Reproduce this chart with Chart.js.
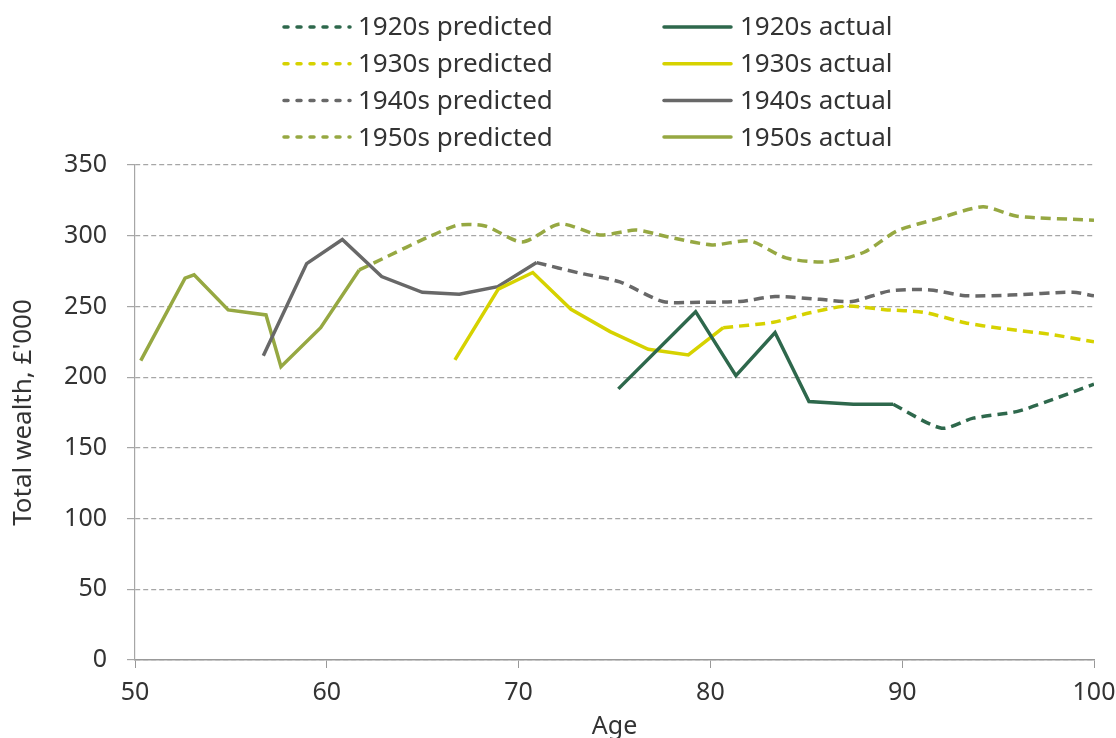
<!DOCTYPE html>
<html>
<head>
<meta charset="utf-8">
<script src="https://cdn.jsdelivr.net/npm/chart.js@4.4.0/dist/chart.umd.min.js"></script>
<style>
  body { margin: 0; background: #fff; }
  #wrap { width: 1116px; height: 738px; }
</style>
</head>
<body>
<div id="wrap"><canvas id="grafico" width="1116" height="738"></canvas></div>
<script>
// datos (edad, riqueza total en miles de libras)
const edades1920Real = [75.2, 79.23, 81.33, 83.37, 85.14, 87.45, 89.53];
const riqueza1920Real = [191.7, 246.3, 201.1, 231.5, 182.8, 180.8, 180.8];
const edades1920Pred = [89.53, 92.06, 93.7, 95.96, 97.53, 100];
const riqueza1920Pred = [180.8, 163.9, 171.0, 175.6, 182.7, 195.0];

const edades1930Real = [66.68, 68.94, 70.74, 72.73, 74.77, 76.76, 78.85, 80.67];
const riqueza1930Real = [212.2, 262.2, 274.0, 248.0, 232.2, 219.7, 215.7, 235.0];
const edades1930Pred = [80.67, 83.28, 85.19, 87.1, 89.1, 91.1, 93.27, 95.1, 97.7, 100];
const riqueza1930Pred = [235.0, 238.8, 245.5, 250.2, 247.7, 245.9, 238.5, 234.6, 230.3, 225.0];

const edades1940Real = [56.69, 58.95, 60.81, 62.86, 64.98, 66.91, 68.91, 70.94];
const riqueza1940Real = [215.2, 280.3, 297.3, 271.1, 260.0, 258.6, 264.0, 281.0];
const edades1940Pred = [70.94, 73.2, 75.28, 77.52, 79.45, 81.54, 83.37, 85.71, 87.38, 89.36, 91.45, 93.28, 95.6, 98.9, 100];
const riqueza1940Pred = [281.0, 273.5, 267.3, 253.5, 253.0, 253.5, 257.0, 255.0, 253.5, 261.0, 261.7, 257.6, 258.0, 260.0, 257.5];

const edades1950Real = [50.3, 52.61, 53.08, 54.86, 56.83, 57.61, 59.68, 61.69];
const riqueza1950Real = [211.7, 270.0, 272.3, 247.5, 244.0, 207.4, 235.0, 275.8];
const edades1950Pred = [61.69, 66.68, 68.25, 70.18, 72.16, 74.24, 76.12, 77.69, 80.08, 82.07, 83.94, 86.03, 88.01, 89.73, 91.82, 94.21, 95.99, 100];
const riqueza1950Pred = [275.8, 306.9, 306.9, 295.6, 308.3, 300.5, 304.0, 299.5, 293.5, 296.3, 284.3, 281.5, 288.3, 303.4, 311.9, 320.4, 313.8, 311.0];

const etiquetasX = [50, 60, 70, 80, 90, 100];
const ticksY = [0, 50, 100, 150, 200, 250, 300, 350];

const colores = {
  c1920: 'rgb(46,104,76)',
  c1930: 'rgb(214,210,0)',
  c1940: 'rgb(104,104,104)',
  c1950: 'rgb(150,168,66)'
};

function puntos(xs, ys) {
  return xs.map((x, i) => ({ x: x, y: ys[i] }));
}

function serie(nombre, xs, ys, color, prevista, fila) {
  return {
    label: nombre,
    data: puntos(xs, ys),
    borderColor: color,
    backgroundColor: color,
    borderWidth: 3.5,
    borderDash: prevista ? [10, 6] : [],
    tension: prevista ? 0.25 : 0,
    pointRadius: 0,
    fill: false,
    fila: fila,
    columna: prevista ? 0 : 1
  };
}

const fuente = '"Noto Sans", "Open Sans", sans-serif';

// leyenda en dos columnas como la original
const leyendaDosColumnas = {
  id: 'leyendaDosColumnas',
  afterDraw(chart) {
    const ctx = chart.ctx;
    ctx.save();
    ctx.font = '26px ' + fuente;
    ctx.textBaseline = 'middle';
    chart.data.datasets.forEach(ds => {
      const y = 27 + ds.fila * 36.7;
      const x0 = ds.columna === 0 ? 284 : 664;
      const x1 = ds.columna === 0 ? 350 : 731;
      ctx.strokeStyle = ds.borderColor;
      ctx.lineWidth = 3.5;
      ctx.lineCap = 'round';
      ctx.setLineDash(ds.columna === 0 ? [4, 9] : []);
      ctx.beginPath();
      ctx.moveTo(x0, y);
      ctx.lineTo(x1, y);
      ctx.stroke();
      ctx.setLineDash([]);
      ctx.fillStyle = '#333';
      ctx.fillText(ds.label, ds.columna === 0 ? 358 : 740, y + 1);
    });
    ctx.restore();
  }
};

new Chart(document.getElementById('grafico'), {
  type: 'line',
  data: {
    datasets: [
      serie('1920s predicted', edades1920Pred, riqueza1920Pred, colores.c1920, true, 0),
      serie('1920s actual', edades1920Real, riqueza1920Real, colores.c1920, false, 0),
      serie('1930s predicted', edades1930Pred, riqueza1930Pred, colores.c1930, true, 1),
      serie('1930s actual', edades1930Real, riqueza1930Real, colores.c1930, false, 1),
      serie('1940s predicted', edades1940Pred, riqueza1940Pred, colores.c1940, true, 2),
      serie('1940s actual', edades1940Real, riqueza1940Real, colores.c1940, false, 2),
      serie('1950s predicted', edades1950Pred, riqueza1950Pred, colores.c1950, true, 3),
      serie('1950s actual', edades1950Real, riqueza1950Real, colores.c1950, false, 3)
    ]
  },
  options: {
    responsive: false,
    animation: false,
    layout: { padding: { top: 165, right: 22, left: 0, bottom: 0 } },
    plugins: {
      legend: { display: false },
      tooltip: { enabled: false }
    },
    scales: {
      x: {
        type: 'linear',
        min: 50,
        max: 100,
        afterFit: s => { s.height = 78; s.paddingLeft = 0; s.paddingRight = 0; },
        afterBuildTicks: s => { s.ticks = etiquetasX.map(v => ({ value: v })); },
        ticks: { color: '#333', font: { family: fuente, size: 25 }, padding: 10, maxRotation: 0 },
        grid: { drawOnChartArea: false, drawTicks: true, tickLength: 8, color: '#999', tickColor: '#999' },
        border: { display: true, color: '#999', width: 1.5 },
        title: { display: true, text: 'Age', color: '#333', font: { family: fuente, size: 25 }, padding: { top: 0, bottom: -4 } }
      },
      y: {
        min: 0,
        max: 350,
        afterFit: s => { s.width = 135; },
        afterBuildTicks: s => { s.ticks = ticksY.map(v => ({ value: v })); },
        ticks: { color: '#333', font: { family: fuente, size: 25 }, padding: 20 },
        grid: { color: '#a6a6a6', lineWidth: 1.2, tickLength: 8, tickColor: '#a6a6a6' },
        border: { display: true, color: '#a6a6a6', width: 1.2, dash: [5, 3] },
        title: { display: true, text: 'Total wealth, £\'000', color: '#333', font: { family: fuente, size: 26 }, padding: { top: 8, bottom: 0 } }
      }
    }
  },
  plugins: [leyendaDosColumnas]
});
</script>
</body>
</html>
